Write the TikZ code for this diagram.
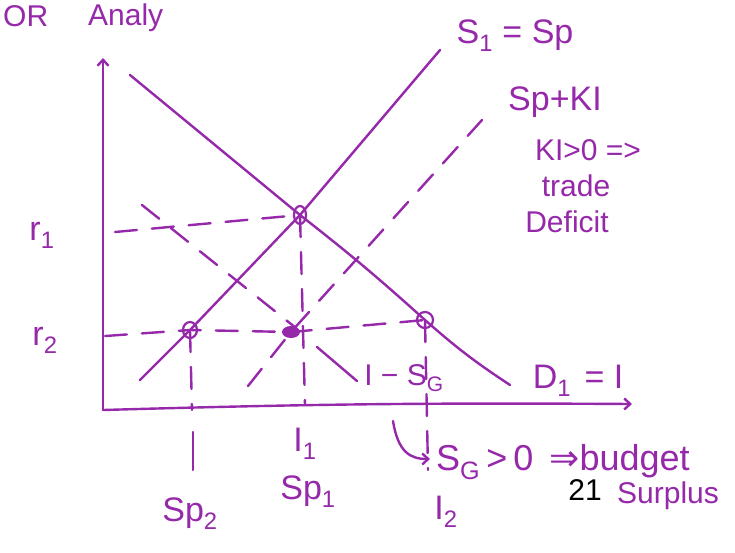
\documentclass[tikz,border=0pt]{standalone}
\usepackage{fontspec}
\setmainfont{Liberation Sans}
\newfontfamily\djv{DejaVu Sans}
\usetikzlibrary{arrows.meta}
\definecolor{pen}{RGB}{150,40,170}
\begin{document}
\begin{tikzpicture}[x=1pt,y=-1pt,line cap=round,line join=round,
  ink/.style={draw=pen,line width=2.4pt},
  dashline/.style={ink,dash pattern=on 22pt off 15pt},
  lab/.style={text=pen,inner sep=0pt,font=\fontsize{34}{36}\selectfont},
  small/.style={text=pen,inner sep=0pt,font=\fontsize{30}{32}\selectfont},
  ring/.style={ink,line width=2.2pt},
  barb/.style={-{Straight Barb[length=6pt,width=11pt]}},
]
\useasboundingbox (0,0) rectangle (735,552);
\fill[white] (0,0) rectangle (735,552);

% key points
\coordinate (O) at (103,410);
\coordinate (yTop) at (103,58);
\coordinate (xEnd) at (632,404);
\coordinate (E1) at (300,215);
\coordinate (E2) at (425,320);
\coordinate (Ep2) at (190,330);
\coordinate (Ek) at (291,332);
\coordinate (dA) at (130,75);
\coordinate (dB) at (510,385);
\coordinate (sA) at (140,380);
\coordinate (sB) at (440,50);
\coordinate (kA) at (248,386);
\coordinate (kB) at (482,120);
\coordinate (r1L) at (115,232);
\coordinate (r2L) at (105,336);
\coordinate (gA) at (142,205);
\coordinate (gB) at (296,328);
\coordinate (gC) at (317,347);
\coordinate (gD) at (357,381);
\coordinate (v1B) at (305,405);
\coordinate (v2B) at (192,410);
\coordinate (v3B) at (428,470);
\coordinate (hA) at (393,421);
\coordinate (hB) at (430,459);

% axes
\draw[ink,barb] (O) -- (yTop);
\draw[ink,barb] (O) to[bend left=1] (xEnd);

% curves
\draw[ink] (dA) -- (E1) to[bend left=2] (E2) to[bend right=4] (dB);
\draw[ink] (sA) -- (Ep2) -- (E1) -- (sB);
\draw[dashline] (kA) -- (Ek) -- (kB);
\draw[dashline] (r1L) -- (E1);
\draw[dashline] (r2L) -- (Ep2) -- (Ek) -- (E2);
\draw[dashline] (E1) -- (v1B);
\draw[dashline] (Ep2) -- (v2B);
\draw[dashline] (E2) -- (v3B);
\draw[dashline] (gA) -- (gB);
\draw[ink] (gC) -- (gD);
\draw[ink] (193,432) -- (193,470);
\draw[ink,barb] (hA) .. controls (398,452) and (410,459) .. (hB);

% intersection marks
\draw[ring] (E1) ellipse (6pt and 9pt);
\draw[ring] (Ep2) ellipse (7pt and 8pt);
\draw[ring] (E2) ellipse (8pt and 8pt);
\fill[pen] (Ek) ellipse (9pt and 6pt);

% labels
\node[small,anchor=base west] (hdA) at (3,26) {OR};
\node[small,anchor=base west] (hdB) at (88,25) {Analy};
\node[lab] (r1) at (42,235) {r\textsubscript{1}};
\node[lab] (r2) at (45,340) {r\textsubscript{2}};
\node[lab] (s1) at (515,36) {S\textsubscript{1} = Sp};
\node[lab] (spk) at (555,102) {Sp+KI};
\node[small] (ki) at (588,150) {KI>0 =>};
\node[small] (trade) at (576,186) {trade};
\node[small] (def) at (567,222) {Deficit};
\node[lab] (d1) at (578,381) {D\textsubscript{1} \hspace{4pt}= I};
\node[small] (isg) at (404,378) {I − S\textsubscript{G}};
\node[lab] (i1) at (305,444) {I\textsubscript{1}};
\node[lab] (sp1) at (308,492) {Sp\textsubscript{1}};
\node[lab] (sp2) at (190,514) {Sp\textsubscript{2}};
\node[lab] (i2) at (446,512) {I\textsubscript{2}};
\node[lab,anchor=west,font=\fontsize{36}{38}\selectfont] (sg) at (436,462) {S\textsubscript{G}\,>\,0\, {\djv ⇒}budget};
\node[inner sep=0pt,font=\fontsize{30}{32}\selectfont\rmfamily] (pg) at (585,490) {21};
\node[small] (surp) at (668,496) {Surplus};
\end{tikzpicture}
\end{document}
